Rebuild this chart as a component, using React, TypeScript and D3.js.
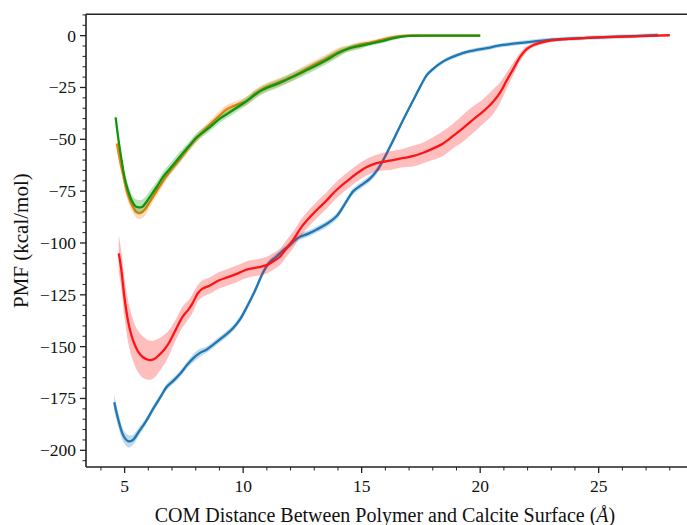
import React from "react";
import * as d3 from "d3";

// ---- data (x in Å, PMF in kcal/mol, err = half-width of shaded band) ----
const blueX = [4.56,4.75,4.95,5.15,5.35,5.6,5.9,6.2,6.5,6.77,7.05,7.35,7.62,7.9,8.18,8.45,8.74,9.02,9.3,9.58,9.86,10.15,10.5,10.85,11.1,11.4,11.7,11.97,12.2,12.4,12.75,13.1,13.5,13.95,14.3,14.65,15.0,15.35,15.65,15.91,16.2,16.48,16.8,17.18,17.5,17.75,18.02,18.3,18.59,19.0,19.57,20.27,20.97,21.7,22.5,23.5,25.05,26.5,27.5];
const blueY = [-176.8,-186,-193,-195.6,-195,-191,-186,-180,-174.5,-169.5,-166.5,-163,-159,-155.5,-153,-151.5,-149,-146.5,-144,-141,-137,-131,-123,-114,-109.5,-106.6,-103.5,-101,-98.5,-97,-95.5,-93.5,-91,-87,-81,-75,-72,-69,-65,-60,-53.5,-47,-39.5,-31,-24,-19,-16,-13.5,-11.5,-9.5,-7.5,-6,-4.5,-3.5,-2.5,-1.6,-0.8,-0.2,0.3];
const blueErr = [4,3.5,3,3,2.5,2,1.5,1.5,1.5,1.5,1.5,1.5,1.5,2,2,1.5,1.5,1.5,1.5,1.5,1.5,1.5,1.5,1.5,1.5,1.5,1.5,1.5,1.5,1.5,1.5,1.5,1.5,1.5,1.5,1.5,1.5,1.5,1.5,1.5,1.5,1.5,1,1,1,1,1,1,1,1,1,1,1,1,1,1,1,1,1];

const orangeX = [4.67,4.8,4.95,5.1,5.3,5.5,5.65,5.85,6.07,6.35,6.63,7.0,7.33,7.7,8.04,8.5,9.0,9.3,9.7,10.15,10.5,10.85,11.5,12.11,12.8,13.52,14.0,14.37,14.9,15.4,15.77,16.3,16.9,18.0,19.0,20.0];
const orangeY = [-52,-60,-68,-75.5,-81.5,-85,-85.5,-84,-80,-75,-70,-64,-59.5,-54,-49.5,-44,-38.5,-35.5,-33.5,-31.5,-28,-25.5,-22.5,-19.5,-15.2,-11,-8,-6.3,-4.5,-3.2,-2.2,-0.8,0,0,0,0];
const orangeErr = [2,2.5,2.5,3,3,3,3,3,2.5,2.5,2,2,2,2,2,2,2,2,2,2,2,2,2,2,2,2,2,1.5,1.5,1,1,1,0.5,0.4,0.4,0.4];

const greenX = [4.62,4.75,4.87,5.0,5.15,5.3,5.45,5.6,5.75,5.9,6.07,6.35,6.63,7.0,7.33,7.7,8.04,8.5,9.02,9.5,10.15,10.5,10.85,11.5,12.11,12.8,13.52,14.0,14.37,14.9,15.4,15.77,16.3,16.9,18.0,19.0,20.0];
const greenY = [-39.4,-51,-60,-68.5,-75,-79.5,-82.2,-82.8,-82.5,-80.5,-77.7,-73,-68,-63,-58.4,-53.5,-49,-45,-40,-36.5,-31.5,-28.5,-26,-23,-19.8,-16,-11.7,-8.5,-6.6,-5,-3.8,-2.9,-1.3,-0.2,0,0,0];
const greenErr = [1.5,2,2,2.5,3,3,3.5,3.5,3.5,3,3,2.5,2.5,2.5,2.5,2,2,2,2,2,2,2,2,2,2,2,2,2,1.5,1.5,1,1,1,0.5,0.4,0.4,0.4];

const redX = [4.75,4.85,5.0,5.15,5.34,5.55,5.76,6.04,6.25,6.46,6.7,6.88,7.15,7.45,7.7,7.87,8.1,8.29,8.6,8.99,9.35,9.7,10.0,10.26,10.6,10.96,11.25,11.52,11.8,12.11,12.45,12.82,13.2,13.52,13.8,14.08,14.4,14.79,15.2,15.63,16.2,16.76,17.2,17.6,18.0,18.44,18.9,19.29,19.7,20.13,20.5,20.84,21.1,21.4,21.7,21.96,22.25,22.52,23.0,24.0,25.05,26.5,28.0];
const redY = [-105,-112,-127,-138,-146.5,-152,-155,-156.5,-156,-154,-151,-148,-142,-135.5,-132,-129,-124,-122,-120.5,-118,-116.5,-115,-113.5,-112.5,-111.8,-110.8,-109,-107,-103,-98.5,-92.5,-87.5,-83,-79.5,-76,-73,-70,-66.5,-63.5,-61.5,-60.3,-59,-58,-56.5,-54.5,-52,-48,-44.5,-40.5,-36.5,-32.5,-27.5,-22,-16,-10,-6.5,-4.5,-3.5,-2.3,-1.4,-0.8,-0.3,0.2];
const redErr = [9,9,9.5,10,10,10,10,9.5,9,8,7,6,5,5,4.5,4.5,4,4,4,4,4,4,4,4,4,4,4,4,4,4,4,4,4,4,4,4,4,4,4,4,4.5,4.5,5,5,5.5,6,6,6.5,6.5,6,6,5,4,3,2,1.5,1,1,0.8,0.5,0.5,0.4,0.3];

const xTicks = [5, 10, 15, 20, 25];
const yTicks = [0, -25, -50, -75, -100, -125, -150, -175, -200];

const seriesList = [
  { name: "blue", color: "#1f77b4", xs: blueX, ys: blueY, es: blueErr },
  { name: "orange", color: "#ff7f0e", xs: orangeX, ys: orangeY, es: orangeErr },
  { name: "green", color: "#0e960e", xs: greenX, ys: greenY, es: greenErr },
  { name: "red", color: "#ff1414", xs: redX, ys: redY, es: redErr },
];

const W = 687, H = 525;
const left = 86, top = 14.3, bottom = 467, rightPx = 698;

export default function App() {
  const x = d3.scaleLinear().domain([3.37, 29.19]).range([left, rightPx]);
  const y = d3.scaleLinear().domain([-208.05, 10.3]).range([bottom, top]);
  const curve = d3.curveCatmullRom.alpha(0.5);
  const line = d3.line<[number, number]>().x(d => x(d[0])).y(d => y(d[1])).curve(curve);
  const area = d3.area<[number, number, number]>()
    .x(d => x(d[0])).y0(d => y(d[1] - d[2])).y1(d => y(d[1] + d[2])).curve(curve);

  const xMinor = d3.range(4, 30, 1).filter(v => v % 5 !== 0);
  const yMinor = d3.range(-205, 11, 5).filter(v => v % 25 !== 0);
  const font = "'Liberation Serif', 'Times New Roman', serif";

  return (
    <svg width={W} height={H} style={{ position: "absolute", left: 0, top: 0, background: "#fff" }}>
      <defs>
        <clipPath id="plotclip">
          <rect x={left} y={top} width={rightPx - left} height={bottom - top} />
        </clipPath>
      </defs>
      <g clipPath="url(#plotclip)">
        {seriesList.map(s => {
          const pts = s.xs.map((v, i) => [v, s.ys[i], s.es[i]] as [number, number, number]);
          return (
            <g key={s.name}>
              <path d={area(pts) || ""} fill={s.color} fillOpacity={0.28} stroke="none" />
              <path d={line(pts.map(p => [p[0], p[1]] as [number, number])) || ""} fill="none" stroke={s.color} strokeWidth={2.3} strokeLinejoin="round" />
            </g>
          );
        })}
      </g>
      {/* spines */}
      <line x1={left} x2={left} y1={top} y2={bottom} stroke="#222" strokeWidth={1.6} />
      <line x1={left} x2={W} y1={bottom} y2={bottom} stroke="#222" strokeWidth={1.6} />
      <line x1={left} x2={W} y1={top} y2={top} stroke="#222" strokeWidth={1.6} />
      {/* x ticks */}
      {xTicks.map(t => (
        <g key={"xt" + t}>
          <line x1={x(t)} x2={x(t)} y1={bottom} y2={bottom + 6} stroke="#222" strokeWidth={1.3} />
          <text x={x(t)} y={bottom + 25} textAnchor="middle" fontFamily={font} fontSize={17.5} fill="#111">{t}</text>
        </g>
      ))}
      {xMinor.filter(t => x(t) < W).map(t => (
        <line key={"xm" + t} x1={x(t)} x2={x(t)} y1={bottom} y2={bottom + 3.5} stroke="#222" strokeWidth={1} />
      ))}
      {/* y ticks */}
      {yTicks.map(t => (
        <g key={"yt" + t}>
          <line x1={left - 6} x2={left} y1={y(t)} y2={y(t)} stroke="#222" strokeWidth={1.3} />
          <text x={left - 10} y={y(t) + 6} textAnchor="end" fontFamily={font} fontSize={17.5} fill="#111">{t < 0 ? "\u2212" + Math.abs(t) : String(t)}</text>
        </g>
      ))}
      {yMinor.map(t => (
        <line key={"ym" + t} x1={left - 3.5} x2={left} y1={y(t)} y2={y(t)} stroke="#222" strokeWidth={1} />
      ))}
      {/* axis labels */}
      <text x={385} y={522} textAnchor="middle" fontFamily={font} fontSize={20} fill="#111">
        COM Distance Between Polymer and Calcite Surface (<tspan fontStyle="italic">Å</tspan>)
      </text>
      <text transform={`translate(28, ${(top + bottom) / 2}) rotate(-90)`} textAnchor="middle" fontFamily={font} fontSize={21} fill="#111">
        PMF (kcal/mol)
      </text>
    </svg>
  );
}
